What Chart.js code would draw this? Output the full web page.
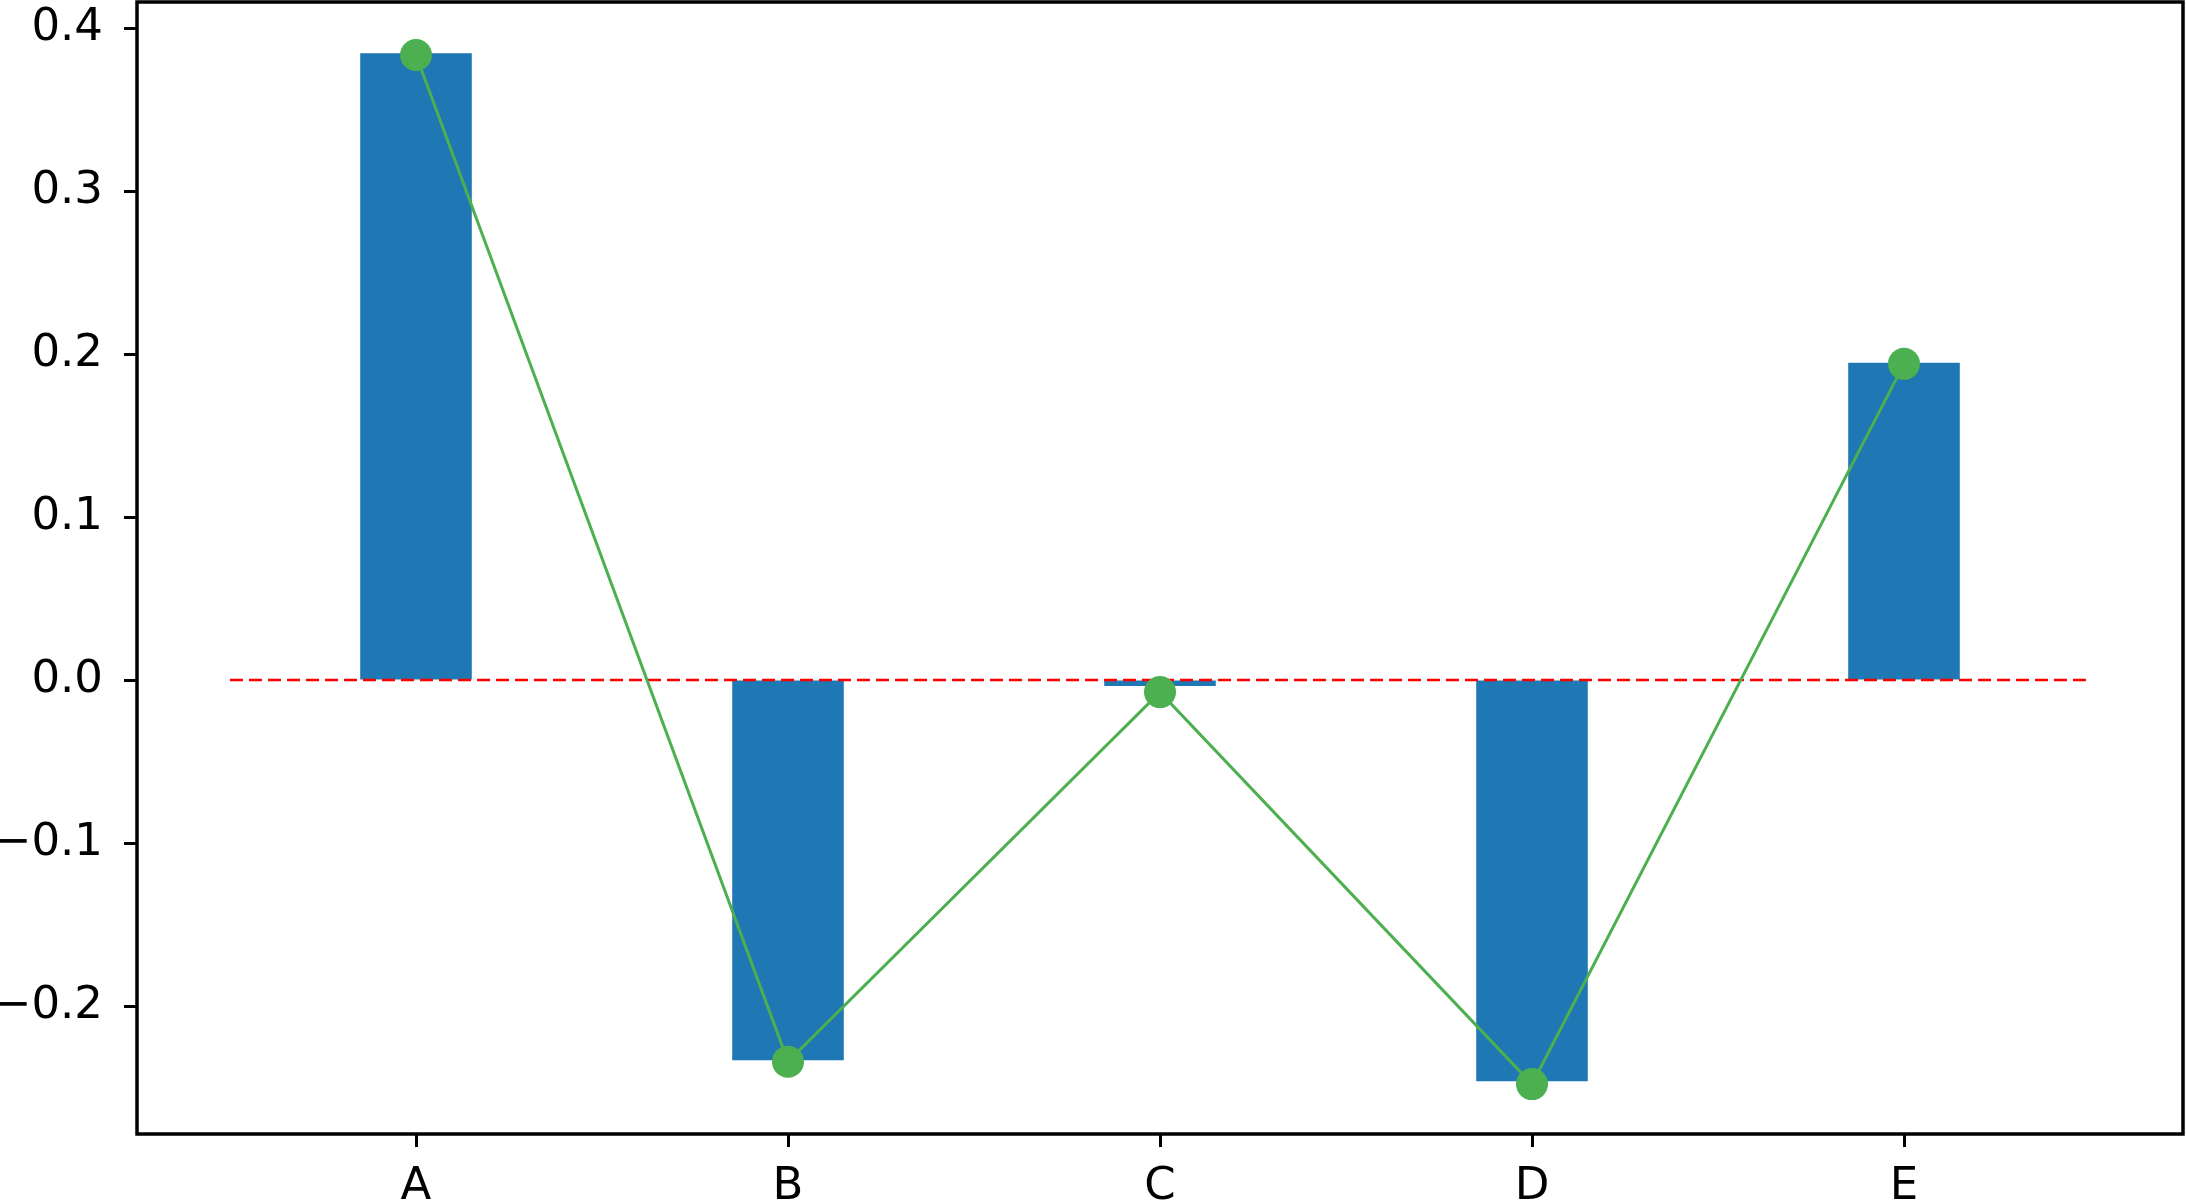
<!DOCTYPE html>
<html>
<head>
<meta charset="utf-8">
<title>Bar and line chart</title>
<script src="https://cdn.jsdelivr.net/npm/chart.js@4/dist/chart.umd.min.js"></script>
<style>
  html, body { margin: 0; padding: 0; background: #fff; overflow: hidden; }
  canvas { display: block; }
</style>
</head>
<body>
<canvas id="chart" width="2186" height="1202"></canvas>
<script>
"use strict";

// Data
const categories = ["A", "B", "C", "D", "E"];
const barValues = [0.3845, -0.2332, -0.0037, -0.2461, 0.1946];
const lineValues = [0.3835, -0.2341, -0.0074, -0.2479, 0.194];

// Zero reference line, spans the categories
const refLineX = [-0.5, 4.5];
const refLineY = 0;

// Axis limits (matplotlib-style margins)
const xLimits = [-0.75, 4.75];
const yLimits = [-0.2785, 0.416];
const yStep = 0.1;

const FONT = "'DejaVu Sans', sans-serif";

// Box around the plot area, like matplotlib spines
const framePlugin = {
  id: "frame",
  afterDatasetsDraw(chart) {
    const { ctx, chartArea } = chart;
    ctx.save();
    ctx.strokeStyle = "#000";
    ctx.lineWidth = 3.5;
    ctx.strokeRect(chartArea.left, chartArea.top, chartArea.right - chartArea.left, chartArea.bottom - chartArea.top);
    ctx.restore();
  },
};

// no extra room for labels that hang over the plot edges
function noOverhang(scale) {
  scale.paddingTop = 0;
  scale.paddingBottom = 0;
  scale.paddingLeft = 0;
  scale.paddingRight = 0;
}

const ctx = document.getElementById("chart").getContext("2d");

new Chart(ctx, {
  type: "bar",
  data: {
    datasets: [
      {
        type: "line",
        data: categories.map((c, i) => ({ x: i, y: lineValues[i] })),
        borderColor: "#4caf50",
        backgroundColor: "#4caf50",
        borderWidth: 3,
        pointRadius: 16,
        pointBorderWidth: 0,
        pointBackgroundColor: "#4caf50",
        tension: 0,
        order: 1,
      },
      {
        type: "line",
        data: refLineX.map((x) => ({ x: x, y: refLineY })),
        borderColor: "#ff0000",
        borderWidth: 2.5,
        borderDash: [13, 6],
        pointRadius: 0,
        order: 2,
      },
      {
        type: "bar",
        data: categories.map((c, i) => ({ x: i, y: barValues[i] })),
        backgroundColor: "#1f77b4",
        borderWidth: 0,
        categoryPercentage: 1,
        barPercentage: 0.3,
        order: 3,
      },
    ],
  },
  options: {
    responsive: false,
    animation: false,
    devicePixelRatio: 1,
    layout: {
      autoPadding: false,
      padding: { top: 2, right: 3, left: 0, bottom: 0 },
    },
    plugins: {
      legend: { display: false },
      tooltip: { enabled: false },
    },
    scales: {
      x: {
        type: "linear",
        min: xLimits[0],
        max: xLimits[1],
        offset: false,
        border: { display: false },
        grid: {
          offset: false,
          drawOnChartArea: false,
          drawTicks: true,
          tickLength: 13,
          tickWidth: 3,
          tickColor: "#000",
        },
        ticks: {
          stepSize: 1,
          includeBounds: false,
          autoSkip: false,
          maxRotation: 0,
          padding: 13,
          color: "#000",
          font: { family: FONT, size: 45 },
          callback: (v) => categories[v] ?? "",
        },
        afterFit(scale) {
          scale.height = 68;
          noOverhang(scale);
        },
      },
      y: {
        min: yLimits[0],
        max: yLimits[1],
        border: { display: false },
        grid: {
          drawOnChartArea: false,
          drawTicks: true,
          tickLength: 13,
          tickWidth: 3,
          tickColor: "#000",
        },
        ticks: {
          stepSize: yStep,
          includeBounds: false,
          padding: 21,
          color: "#000",
          font: { family: FONT, size: 45 },
          callback: (v) => (v < -1e-9 ? "\u2212" : "") + Math.abs(v).toFixed(1),
        },
        afterFit(scale) {
          scale.width = 137;
          noOverhang(scale);
        },
      },
    },
  },
  plugins: [framePlugin],
});
</script>
</body>
</html>
